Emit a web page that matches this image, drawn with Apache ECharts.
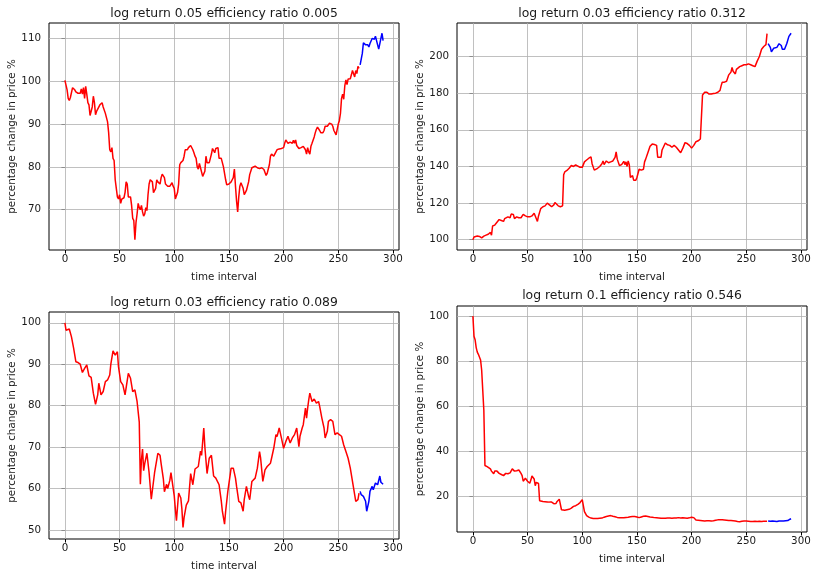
<!DOCTYPE html>
<html>
<head>
<meta charset="utf-8">
<script src="https://cdn.jsdelivr.net/npm/echarts@6/dist/echarts.min.js"></script>
<style>
html,body{margin:0;padding:0;background:#ffffff;}
#chart{width:817px;height:579px;}
</style>
</head>
<body>
<div id="chart"></div>
<script>
// ---------- data ----------
const splitAt = 270; // first time step drawn in blue
const titles = [
  'log return 0.05 efficiency ratio 0.005',
  'log return 0.03 efficiency ratio 0.312',
  'log return 0.03 efficiency ratio 0.089',
  'log return 0.1 efficiency ratio 0.546'
];
const xLabel = 'time interval';
const yLabel = 'percentage change in price %';
const xTicks = [0, 50, 100, 150, 200, 250, 300];
const yTicks1 = [70, 80, 90, 100, 110];
const yTicks2 = [100, 120, 140, 160, 180, 200];
const yTicks3 = [50, 60, 70, 80, 90, 100];
const yTicks4 = [20, 40, 60, 80, 100];

const time1 = [0,1,2,3,4,5,6,7,8,9,10,12,14,15,16,17,18,19,20,21,22,23,24,25,26,27,28,29,30,32,33,34,35,37,39,40,41,42,43,44,45,46,47,48,49,50,51,52,53,54,55,56,57,58,59,60,61,62,63,64,65,66,67,68,69,70,71,72,73,74,75,76,77,78,79,80,81,82,83,84,85,86,87,88,89,90,91,92,94,96,97,98,99,100,101,102,103,104,105,106,107,108,109,110,111,112,113,114,115,116,117,118,119,120,121,122,123,124,125,126,127,128,129,130,131,132,133,134,135,136,137,138,139,140,141,142,143,144,145,146,147,148,149,150,151,152,153,154,155,156,157,158,159,160,161,162,163,164,165,166,167,168,169,170,171,172,174,176,178,180,182,184,185,186,187,188,189,190,191,192,193,194,196,198,200,201,202,203,204,206,208,209,210,211,212,213,214,215,216,218,219,220,221,222,223,224,225,226,227,228,229,230,231,232,233,234,235,236,237,238,239,240,241,242,243,244,245,246,247,248,249,250,251,252,253,254,255,256,257,258,259,260,261,262,263,264,265,266,267,268,269,270,271,272,273,274,275,276,277,278,279,280,281,282,283,284,285,286,287,288,289,290,291];
const price1 = [100.2,100.2,98,96,95.5,96.2,96,98.5,98.8,98,97.5,97.2,97.2,98.2,97,98.5,96,98.8,97,95,94.5,92,92,94,96.5,95,92.2,93,93.5,94.5,94.5,95,94,92.5,90.5,88,84,83.5,84.5,82,81.5,77,75,73,72.5,73.5,71.5,72.5,72.8,72.8,74,76.5,76,73,73,73,71,68,67.5,63,67,69,71.5,70.5,70,71,69.5,68.5,69,70.5,69.8,73.5,76,77,77,76.5,74,74,75,77,76.5,76.8,76,77.5,78.3,78.3,77.5,76,75.5,75.5,75.3,76.3,75.5,75,72.5,72.8,74,76,80.5,81,81,81.5,82.5,84,84.2,84,84.5,84.5,85,84.7,84,83.3,82.5,82,80,79.5,80.8,79.8,79.5,77.8,78,79,82.5,81,81,81,82,83,84.3,84,83.3,84.3,84.5,84.5,82,82.3,82,82,80,78.5,77,75.8,75.8,76,76.2,76.5,77,77.5,79.5,75.5,72,69.5,73,75.5,76.3,76,75,73.5,74,74.5,75.5,76.5,78.2,78.2,79.8,80,80.2,79.8,79.6,79.8,79.4,78,78.5,79.5,80.5,82.5,83,83,82.5,82.5,83.5,84,84.2,84.3,84.5,85.5,86.3,86,85.5,85.8,85.5,86.2,85.5,86.3,85,85,84.3,84,84.5,84.8,85.2,84,83,84.5,83.5,83,84.8,85.5,85.5,87,88,88.8,89.3,89,88.5,88,87.8,88,88.5,89.5,89.6,89.5,89.8,90.2,90.3,90,89.5,88.5,88,87.5,87.5,90,90.8,92.5,96,97,95.8,99,100.3,99.2,100.5,100.5,100.6,101.5,102.5,102.8,101,102.5,101.8,103.5,103,103.8,104.2,106.5,109,108.8,108.5,108.2,108.5,108,108.8,108.5,110,110.2,109.8,110.5,110.7,108.5,107.5,107.8,110,111.2,109.5];

const time2 = [0,1,2,4,6,8,10,12,14,16,17,18,19,20,22,24,26,28,29,30,32,34,35,36,37,38,40,42,44,46,47,48,50,52,53,54,56,57,58,59,60,61,62,64,66,68,70,72,74,75,76,78,80,82,83,84,85,86,88,90,92,94,96,98,100,101,102,104,106,108,109,110,111,112,114,116,118,119,120,122,124,126,128,130,131,132,134,136,138,139,140,141,142,143,144,145,146,147,148,149,150,152,154,156,157,158,160,162,164,166,168,169,170,172,173,174,176,178,180,182,184,186,188,190,192,194,196,198,200,201,202,204,205,206,207,208,209,210,211,212,213,214,216,218,220,222,224,226,227,228,230,232,234,236,237,238,239,240,241,242,244,246,248,250,252,254,256,258,259,260,262,264,266,268,269,270,271,272,273,274,275,276,278,279,280,281,282,283,284,285,286,287,288,289,290,291];
const price2 = [100,101.5,102,102,101.8,101,102,102.5,103,104,102.5,107.5,107.8,108,109.5,111,110.5,110,111.5,111,112.5,112,114,114,113.8,111.5,112.5,112,112,113.8,113,113,112.5,112.5,111.5,113,114.5,115.5,111.5,110,113,114,117,118,118.5,120,119,118,119,120.3,119.5,118.5,118,118.5,135.5,137,137.5,137.8,139,140.5,140,140.8,140.2,139.5,139.5,141,142.5,143.5,144.5,145.2,141.5,141,138,137.5,139,140,141.5,143,141,143,142,142.5,143,145,148,144,140.5,141,142.8,141,142.5,140,143,141,134,133,135,132.5,133.5,132.5,134,138.5,138,138.5,142.5,144,147.5,151,152.2,152,151.5,145,144.8,145,149,150,152.8,151.8,151.5,150.5,151.5,150.5,149,147.5,150,153,152.5,151.5,150,149.5,151.5,153.5,152.5,154,153,155,156,179,180,180.5,179.5,180.5,179.5,179.5,179.8,180,180.5,181.5,184,186,186,186.5,190,191.5,194,192,192.5,190.5,193,193.5,194.5,195,195.5,195.5,196,195.5,195,194.5,195.5,197.5,200,204,205.5,206.5,212.5,207,207,205,202.5,203,204.5,204,205,206,207,208,206,204,203.5,204,205,207,208,211,212,212.7];

const time3 = [0,1,2,4,6,8,10,12,14,16,18,20,22,24,26,28,30,31,33,35,37,39,41,42,44,46,48,49,51,53,55,58,60,62,64,66,68,69,70,71,72,73,75,77,79,82,85,87,88,90,91,93,94,96,97,100,101,102,104,106,107,108,109,111,113,115,117,119,122,124,125,127,128,130,132,134,136,138,141,143,144,146,147,149,150,152,154,156,157,159,161,163,164,166,168,169,171,174,176,178,179,181,183,185,188,189,191,193,194,196,198,200,202,204,206,208,210,212,214,215,217,218,220,221,222,223,224,226,228,230,232,233,235,237,238,240,241,243,245,247,249,251,253,255,257,259,261,263,265,266,268,269,270,271,273,275,276,278,279,281,282,284,286,288,289,290,291];
const price3 = [100,98.2,98.5,98.5,96.6,93.8,90.6,90.4,90,88,89,89.8,87.2,86.8,83,80.3,82.6,85.4,82.6,83.4,85.8,86.2,87.4,90,93.2,92.2,93,89.4,85.8,85,82.6,87.8,86.6,83.4,83.8,81,76,61,67,69.5,64.3,66,68.5,63.8,57.4,63.8,68.5,68,66,62.4,59.2,61,60,62,63.8,58.2,55,52.2,58.9,57.7,55,50.6,53,56,57,63.6,60.9,64.7,65.3,69,68,74.6,70,63.6,67.3,68,63,62.5,60.9,57,54.5,51.4,54.5,59.3,59,64.9,64.9,62.5,60.5,56.9,56.5,54.5,57.3,60.5,58.1,57.3,61.7,62.5,64.9,68.9,67.3,61.7,64.5,65.3,66.1,67.3,69.7,73,72.5,74.6,72.2,69.7,71.3,72.6,71,72.2,73,74.6,70.1,72.6,74.6,75.4,79.4,77,79.4,81.4,83,81,81.6,80.6,81,79.8,77,74.6,72.2,73.8,76.2,76.6,76.2,73,73.4,73,72.6,70.5,68.9,67.3,64.9,61.7,58.5,56.9,57.3,58.9,59.3,58.5,58.1,56.9,54.5,56.9,59.3,60.5,59.7,61.3,60.9,63,61.5,61.3,61];

const time4 = [0,1,2,3,4,5,6,7,8,9,10,11,12,13,14,16,17,18,19,20,22,24,26,28,30,32,33,34,35,36,38,40,42,43,44,45,46,47,48,50,51,52,53,54,55,56,57,58,59,60,61,62,64,66,68,70,72,74,76,77,78,79,80,81,82,84,86,88,90,91,92,94,96,98,99,100,101,102,103,104,105,106,108,110,112,114,116,118,120,122,124,126,128,130,132,134,136,138,140,142,144,146,148,150,152,154,156,158,160,162,164,166,168,170,172,174,176,178,180,182,184,186,188,190,192,194,196,198,200,201,202,203,204,206,208,210,212,214,216,218,220,222,224,226,228,230,232,234,236,238,240,242,244,246,248,250,252,254,256,258,260,262,264,266,268,269,270,272,274,276,278,280,282,284,286,288,289,290,291];
const price4 = [100,91,89.5,86,84,83,82.5,80.5,76,67,58,33.5,33.5,33,32.5,32,31,30.5,29.8,31,31,30,29.5,29,30,29.8,30.5,30.2,31,32,31,31.2,31.5,31,30,29,26.5,26.5,27.8,26.5,27,25.6,27,28.8,28.3,27.5,24.5,26,25.5,25.5,17.8,17.5,17.5,17.4,17.3,17.2,17.2,16.5,16.6,17.5,17.8,18.5,18.7,13.8,13.6,13.6,13.8,14,14.5,15.3,15.3,15.6,16.2,17,17.8,18.3,17.5,13,12.3,11.2,10.5,10.5,10.1,9.9,9.9,9.9,10,10.1,10.5,10.8,11,11.2,10.9,10.7,10.4,10.2,10.2,10.2,10.4,10.5,10.7,10.8,10.8,10.6,10.3,10.6,10.9,11,10.8,10.6,10.5,10.3,10.2,10.1,10,10,10,10.1,10.1,10,10.1,10.1,10.3,10.1,10.2,10.1,10,10.2,10.5,10.6,10.3,9.5,9.2,9.1,9,8.9,8.8,8.9,8.9,8.8,8.9,9.1,9.3,9.4,9.3,9.2,9.1,9,9,8.9,8.8,8.6,8.5,8.7,8.8,8.8,8.7,8.6,8.6,8.7,8.6,8.7,8.6,8.7,8.7,8.7,8.8,8.7,8.8,8.7,8.6,8.8,8.8,8.8,8.9,9,9.2,9.6,9.8];

// ---------- layout / style ----------
const FONT = 'DejaVu Sans';
const TEXT = '#1a1a1a';
const GRIDLINE = '#b0b0b0';
const panels = [
  { title: titles[0], times: time1, prices: price1, yTicks: yTicks1, yMin: 60.6, yMax: 113.6,
    grid: { left: 49, top: 23, width: 350, height: 227 }, titleX: 224, titleTop: 8 },
  { title: titles[1], times: time2, prices: price2, yTicks: yTicks2, yMin: 94.4, yMax: 218.3,
    grid: { left: 457, top: 23, width: 350, height: 227 }, titleX: 632, titleTop: 8 },
  { title: titles[2], times: time3, prices: price3, yTicks: yTicks3, yMin: 47.8, yMax: 102.6,
    grid: { left: 49, top: 312, width: 350, height: 227 }, titleX: 224, titleTop: 297 },
  { title: titles[3], times: time4, prices: price4, yTicks: yTicks4, yMin: 3.9, yMax: 104.5,
    grid: { left: 457, top: 306, width: 350, height: 226 }, titleX: 632, titleTop: 290 }
];

const option = {
  animation: false,
  backgroundColor: '#ffffff',
  title: [], grid: [], xAxis: [], yAxis: [], series: []
};

panels.forEach((p, i) => {
  option.title.push({
    text: p.title, left: p.titleX, top: p.titleTop, textAlign: 'center', padding: 0,
    textStyle: { fontFamily: FONT, fontSize: 12.4, fontWeight: 'normal', color: TEXT }
  });
  option.grid.push(Object.assign({ show: true, borderColor: '#000000', borderWidth: 1, backgroundColor: 'transparent' }, p.grid));
  option.xAxis.push({
    type: 'value', gridIndex: i, min: -14.55, max: 305.55,
    name: xLabel, nameLocation: 'middle', nameGap: 22.5,
    nameTextStyle: { fontFamily: FONT, fontSize: 10.3, color: TEXT },
    axisLine: { show: false },
    axisTick: { show: true, inside: false, length: 3.5, customValues: xTicks, lineStyle: { color: '#000000', width: 1 } },
    axisLabel: { show: true, customValues: xTicks, margin: 4, fontFamily: FONT, fontSize: 10.3, color: TEXT },
    splitLine: { show: false }
  });
  option.yAxis.push({
    type: 'value', gridIndex: i, min: p.yMin, max: p.yMax,
    name: yLabel, nameLocation: 'middle', nameGap: 31, nameRotate: 90,
    nameTextStyle: { fontFamily: FONT, fontSize: 10.3, color: TEXT },
    axisLine: { show: false },
    axisTick: { show: true, inside: false, length: 3.5, customValues: p.yTicks, lineStyle: { color: '#000000', width: 1 } },
    axisLabel: { show: true, customValues: p.yTicks, margin: 8, fontFamily: FONT, fontSize: 10.3, color: TEXT },
    splitLine: { show: false }
  });
  const red = [], blue = [];
  p.times.forEach((t, k) => {
    if (t < splitAt) red.push([t, p.prices[k]]); else blue.push([t, p.prices[k]]);
  });
  // grid lines at the tick values, placed through the axes
  const gridLines = xTicks.map(v => ({ xAxis: v })).concat(p.yTicks.map(v => ({ yAxis: v })));
  option.series.push({
    type: 'line', xAxisIndex: i, yAxisIndex: i, data: [], z: 1, silent: true,
    markLine: {
      silent: true, symbol: ['none', 'none'], animation: false, z: 1,
      label: { show: false },
      lineStyle: { color: GRIDLINE, width: 0.8, type: 'solid' },
      emphasis: { disabled: true },
      data: gridLines
    }
  });
  [[red, '#ff0000'], [blue, '#0000ff']].forEach(([data, color]) => {
    option.series.push({
      type: 'line', xAxisIndex: i, yAxisIndex: i, data: data, z: 3,
      showSymbol: false, symbol: 'none', silent: true,
      lineStyle: { color: color, width: 1.5 }
    });
  });
});

const chart = echarts.init(document.getElementById('chart'), null, { renderer: 'canvas' });
chart.setOption(option);
</script>
</body>
</html>
